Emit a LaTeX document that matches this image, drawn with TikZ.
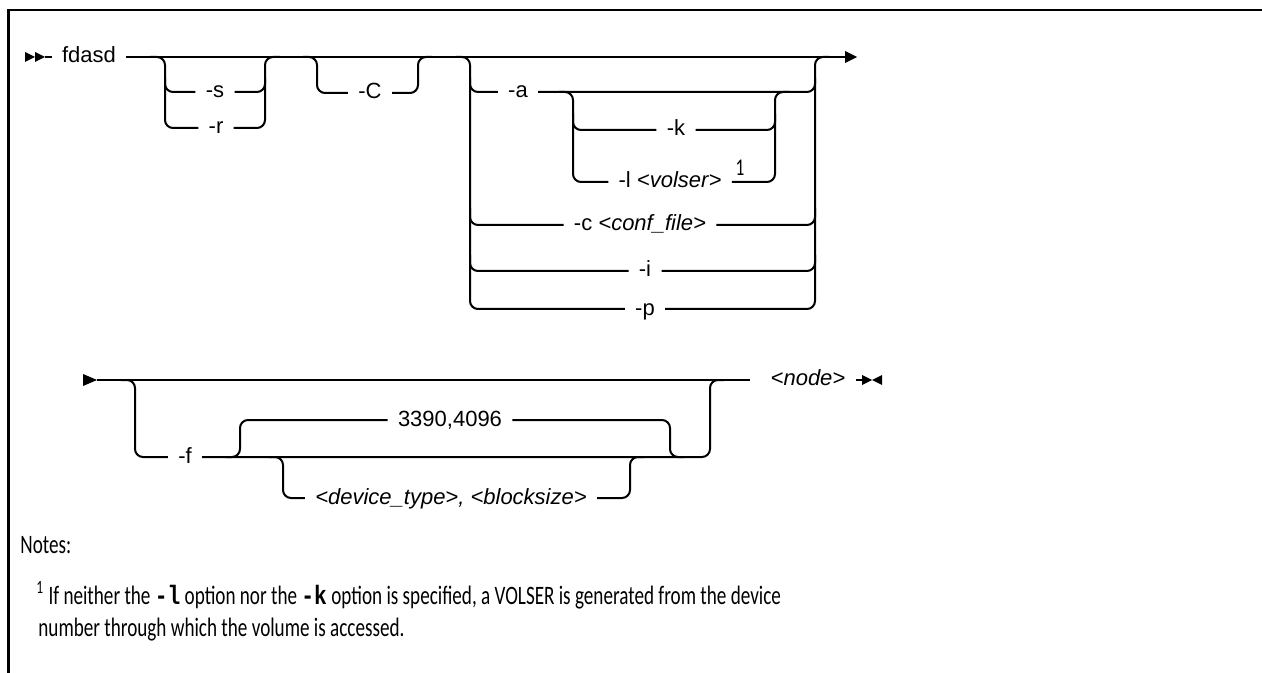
\documentclass[tikz,border=0pt]{standalone}
\usepackage{fontspec}
\setmainfont{Liberation Sans}
\newfontfamily\notefont[FakeStretch=0.72]{Carlito}
\newfontfamily\codefont[FakeStretch=0.8]{Liberation Mono}
\begin{document}
\begin{tikzpicture}[x=0.5pt,y=-0.5pt,
  rail/.style={line width=1pt, rounded corners=4pt},
  opt/.style={font=\fontsize{11}{13}\selectfont, inner xsep=5pt, inner ysep=0pt, text height=8pt, text depth=2pt},
  notetext/.style={font=\notefont\fontsize{13.3}{15}\selectfont, inner sep=0pt, anchor=base west},
  tipfill/.style={fill=black}
]
\useasboundingbox (0,0) rectangle (1262,673);
% frame
\draw[line width=1.3pt] (8.5,673) -- (8.5,10) -- (1262,10);

% ---------- row 1 ----------
\node[opt] (fdasd) at (89,57) {fdasd};
\fill[tipfill] (25,52) -- (35,57) -- (25,62) -- cycle;
\fill[tipfill] (35,52) -- (45,57) -- (35,62) -- cycle;
\coordinate (st1) at (45,57);
\draw[rail] (st1) -- (fdasd.west);
\coordinate (end1) at (845,57);
\draw[rail] (fdasd.east) -- (end1);
\fill[tipfill] (845,51) -- (857,57) -- (845,63) -- cycle;

% -s / -r
\node[opt] (s) at (215,92) {-s};
\node[opt] (r) at (216,128) {-r};
\draw[rail] (150,57) -- (165,57) -- (165,128) -- (r.west);
\draw[rail] (165,78) -- (165,92) -- (s.west);
\draw[rail] (r.east) -- (265,128) -- (265,57) -- (280,57);
\draw[rail] (s.east) -- (265,92) -- (265,78);

% -C
\node[opt] (C) at (370,93) {-C};
\draw[rail] (303,57) -- (317,57) -- (317,93) -- (C.west);
\draw[rail] (C.east) -- (418,93) -- (418,57) -- (432,57);

% big stack
\node[opt] (a) at (518,92) {-a};
\node[opt] (k) at (676,130) {-k};
\node[opt] (l) at (670,182) {-l \textit{<volser>}};
\node[font=\notefont\fontsize{12}{13}\selectfont, inner sep=0pt] (fn) at (740,168) {1};
\node[opt] (c) at (640,225) {-c \textit{<conf\_file>}};
\node[opt] (i) at (645,271) {-i};
\node[opt] (p) at (645,309) {-p};

\draw[rail] (456,57) -- (470,57) -- (470,309) -- (p.west);
\draw[rail] (470,78) -- (470,92) -- (a.west);
\draw[rail] (470,208) -- (470,225) -- (c.west);
\draw[rail] (470,255) -- (470,271) -- (i.west);
\draw[rail] (p.east) -- (815,309) -- (815,57) -- (829,57);
\draw[rail] (a.east) -- (815,92) -- (815,78);
\draw[rail] (c.east) -- (815,225) -- (815,208);
\draw[rail] (i.east) -- (815,271) -- (815,255);

% inner stack
\draw[rail] (559,92) -- (573,92) -- (573,182) -- (l.west);
\draw[rail] (573,114) -- (573,130) -- (k.west);
\draw[rail] (l.east) -- (775,182) -- (775,92) -- (789,92);
\draw[rail] (k.east) -- (775,130) -- (775,114);

% ---------- row 2 ----------
\fill[tipfill] (83,374) -- (97,380) -- (83,386) -- cycle;
\coordinate (st2) at (97,380);
\coordinate (m2e) at (750,380);
\draw[rail] (st2) -- (m2e);

\node[opt] (f) at (185,457) {-f};
\node[opt] (dflt) at (450,420) {3390,4096};
\node[opt] (dev) at (451,498) {\textit{<device\_type>, <blocksize>}};
\node[opt] (nd) at (808,380) {\textit{<node>}};

\draw[rail] (121,380) -- (135,380) -- (135,457) -- (f.west);
\draw[rail] (f.east) -- (710,457) -- (710,380) -- (724,380);
\draw[rail] (226,457) -- (240,457) -- (240,420) -- (dflt.west);
\draw[rail] (dflt.east) -- (670,420) -- (670,457) -- (684,457);
\draw[rail] (269,457) -- (283,457) -- (283,498) -- (dev.west);
\draw[rail] (dev.east) -- (630,498) -- (630,457) -- (644,457);

\coordinate (end2) at (862,380);
\draw[rail] (nd.east) -- (end2);
\fill[tipfill] (862,375) -- (872,380) -- (862,385) -- cycle;
\fill[tipfill] (882,375) -- (872,380) -- (882,385) -- cycle;

% ---------- notes ----------
\node[notetext] (notes) at (20,553) {Notes:};
\node[notetext] (n1) at (36,604) {\textsuperscript{1} If neither the {\codefont\bfseries -l} option nor the {\codefont\bfseries -k} option is specified, a VOLSER is generated from the device};
\node[notetext] (n2) at (38,636) {number through which the volume is accessed.};
\end{tikzpicture}
\end{document}
